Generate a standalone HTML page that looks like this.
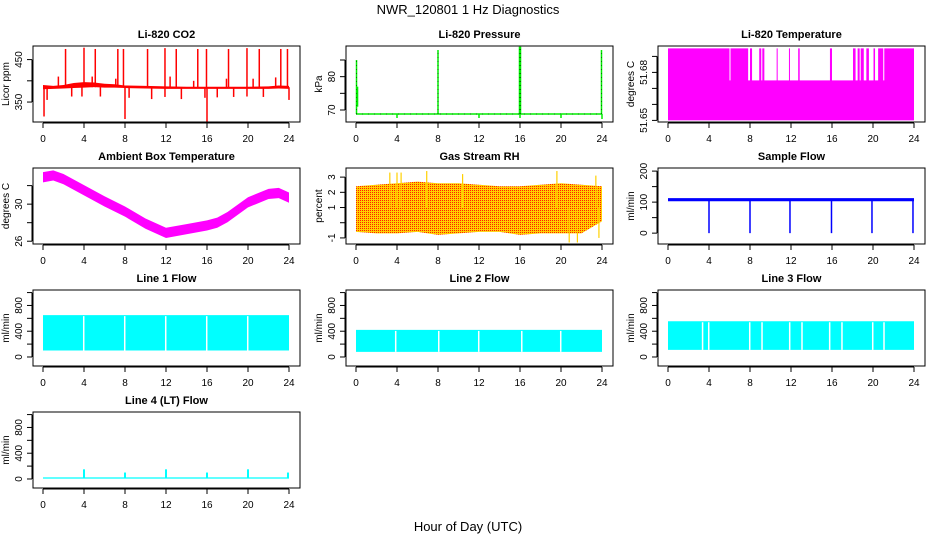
<!DOCTYPE html>
<html><head><meta charset="utf-8"><style>
body{margin:0;background:#fff;}
svg{display:block;font-family:"Liberation Sans",sans-serif;}
</style></head><body>
<svg id="c" width="936" height="540" xmlns="http://www.w3.org/2000/svg">
<defs>
<pattern id="rhpat" width="2" height="2" patternUnits="userSpaceOnUse"><rect width="2" height="2" fill="#ffd000"/><rect width="1" height="1" fill="#ff2000"/></pattern>
</defs>
<text x="468" y="14" text-anchor="middle" font-size="13">NWR_120801  1 Hz Diagnostics</text>
<text x="468" y="531" text-anchor="middle" font-size="13">Hour of Day (UTC)</text>
</svg>
<script>
// ---- data ----
var xTicks = [0,4,8,12,16,20,24];
// CO2
var co2Hours = [0,1,2,3,4,5,6,7,8,10,12,14,16,18,20,22,23,24];
var co2Lo = [380,381,382,383,384,385,384,384,383,382,381,381,381,381,381,381,382,381];
var co2Hi = [390,388,390,395,397,396,393,392,389,388,387,386,386,386,386,387,389,388];
var co2SpikeH = [2.2,4.0,5.1,7.3,7.85,10.2,11.9,13.0,15.1,15.95,18.1,19.9,21.1,23.2,23.85,1.5,4.8,7.1,12.4,14.7,17.9,20.5,22.7];
var co2SpikeV = [475,478,475,475,475,475,477,475,475,475,475,477,475,475,475,410,410,405,410,400,405,405,408];
var co2DipH = [0.1,8.0,16.0,0.4,2.8,3.8,5.6,8.4,10.6,11.9,13.5,15.8,17.0,18.6,19.9,21.5,24.0];
var co2DipV = [316,310,303,355,363,363,363,360,357,362,357,360,361,362,363,362,355];
// Pressure
var presSpikeH = [0.05,8.0,15.95,16.05,23.95];
var presSpikeV = [85,88,89,89,88];
var presDipH = [4,12,16,20,24];
var presDipV = [67.6,67.6,67.6,67.6,67.3];
var presBase = 68.8;
// Li-820 temperature
var tempLow = 51.65, tempMid = 51.675, tempTop = 51.695;
var tempGapStart = [6.0,7.82,8.2,9.1,9.4,10.7,11.9,12.85,16.0,18.3,18.7,19.1,19.6,20.2,21.0];
var tempGapEnd   = [6.08,8.0,8.9,9.2,10.6,11.8,12.7,15.8,18.05,18.5,18.8,19.35,20.05,20.5,21.1];
// Ambient box temperature
var ambHours = [0,1,2,4,6,8,10,12,14,16,17,18,20,22,23,24];
var ambMid = [32.9,33.1,32.7,31.5,30.3,29.2,27.9,26.9,27.3,27.7,28.0,28.6,30.2,31.1,31.2,30.7];
var ambHalf = 0.55;
// Gas stream RH
var rhHours = [0,2,4,6,8,10,12,14,16,18,20,22,24];
var rhLo = [-0.6,-0.7,-0.7,-0.6,-0.8,-0.7,-0.6,-0.6,-0.8,-0.7,-0.7,-0.7,0.1];
var rhHi = [2.4,2.5,2.6,2.7,2.6,2.6,2.5,2.4,2.4,2.5,2.6,2.5,2.4];
var rhSpikeH = [3.3,4.0,4.4,6.9,10.4,19.6,23.4,20.8,21.6,23.7];
var rhSpikeV = [3.3,3.3,3.3,3.4,3.2,3.4,3.1,-1.3,-1.3,-1.0];
// Sample flow
var sfHours = [0,24];
var sfLo = [103,103], sfHi = [113,113];
var sfDipH = [4.0,8.0,11.9,15.95,19.9,23.9];
var sfDipV = [0,0,0,0,0,0];
// Line flows
var l1Lo = [100,100], l1Hi = [650,650];
var l1Gap = [3.9,7.9,11.9,15.9,19.9];
var l2Lo = [80,80], l2Hi = [420,420];
var l2Gap = [3.8,8.0,11.9,16.1,19.9];
var l3Lo = [110,110], l3Hi = [555,555];
var l3Gap = [3.3,3.9,7.9,9.1,11.8,13.0,15.7,16.9,19.9,21.0];
var l4Base = [5,25];
var l4SpikeH = [4.0,8.0,12.0,16.0,20.0,23.9];
var l4SpikeV = [150,100,150,100,150,100];

// ---- layout ----
var svg = document.getElementById('c');
var NS = 'http://www.w3.org/2000/svg';
var colX = [33,346,658], rowY = [46,168,290,412], BW = 267, BH = 76;
function mk(tag, attrs, parent){
  var e = document.createElementNS(NS, tag);
  for (var k in attrs) e.setAttribute(k, attrs[k]);
  (parent||svg).appendChild(e);
  return e;
}
function panel(name, col, row, title, ylim, yticks, ylabels, ylab){
  var g = mk('g', {});
  
  
  var L = colX[col], T = rowY[row];
  var p = {g:g, L:L, T:T,
    x: function(h){ return L + 10 + h * (246/24); },
    y: function(v){ return T + BH - (v - ylim[0]) / (ylim[1]-ylim[0]) * BH; }};
  var t = mk('text', {x:L+BW/2, y:T-8, 'text-anchor':'middle', 'font-size':11, 'font-weight':'bold'}, g);
  t.textContent = title;
  
  
  var xa = mk('g', {}, g);
  
  
  mk('line', {x1:p.x(0), x2:p.x(24), y1:T+BH+1, y2:T+BH+1, stroke:'#000'}, xa);
  xTicks.forEach(function(v){
    mk('line', {x1:p.x(v), x2:p.x(v), y1:T+BH+1, y2:T+BH+6, stroke:'#000'}, xa);
    var tt = mk('text', {x:p.x(v), y:T+BH+20, 'text-anchor':'middle', 'font-size':10}, xa);
    tt.textContent = v;
  });
  var ya = mk('g', {}, g);
  
  
  mk('line', {x1:L-1, x2:L-1, y1:p.y(yticks[0]), y2:p.y(yticks[yticks.length-1]), stroke:'#000'}, ya);
  yticks.forEach(function(v, i){
    var yy = p.y(v);
    mk('line', {x1:L-6, x2:L-1, y1:yy, y2:yy, stroke:'#000'}, ya);
    if (ylabels[i] !== '') {
      var tt = mk('text', {x:L-11, y:yy, 'text-anchor':'middle', 'font-size':10, transform:'rotate(-90 '+(L-11)+' '+yy+')'}, ya);
      tt.textContent = ylabels[i];
    }
  });
  var yl = mk('text', {x:L-24, y:T+BH/2, 'text-anchor':'middle', 'font-size':10, transform:'rotate(-90 '+(L-24)+' '+(T+BH/2)+')'}, g);
  yl.textContent = ylab;
  
  
  p.plot = mk('g', {}, g);
  
  
  p.close = function(){
    mk('rect', {x:L, y:T, width:BW, height:BH, fill:'none', stroke:'#000'}, g);
  };
  return p;
}
function band(p, hours, lo, hi, fill){
  var pts = [];
  for (var i=0;i<hours.length;i++) pts.push(p.x(hours[i])+','+p.y(hi[i]));
  for (var i=hours.length-1;i>=0;i--) pts.push(p.x(hours[i])+','+p.y(lo[i]));
  var e = mk('polygon', {points:pts.join(' '), fill:fill}, p.plot);
  
  
  return e;
}
function vline(p, h, v0, v1, color, w){
  var e = mk('line', {x1:p.x(h), x2:p.x(h), y1:p.y(v0), y2:p.y(v1), stroke:color, 'stroke-width':w||1.5}, p.plot);
  
  
  return e;
}

var p = panel('co2', 0, 0, 'Li-820 CO2', [303,482], [350,400,450], ['350','','450'], 'Licor ppm');
band(p, co2Hours, co2Lo, co2Hi, '#ff0000');
co2SpikeH.forEach(function(h,i){ vline(p, h, 385, co2SpikeV[i], '#ff0000', 1.5); });
co2DipH.forEach(function(h,i){ vline(p, h, 385, co2DipV[i], '#ff0000', 1.5); });
p.close();

p = panel('pressure', 1, 0, 'Li-820 Pressure', [66.4,89.2], [70,75,80,85], ['70','','80',''], 'kPa');
mk('line', {x1:p.x(0), x2:p.x(24), y1:p.y(presBase), y2:p.y(presBase), stroke:'#00ee00', 'stroke-width':1.5}, p.plot);
mk('line', {x1:p.x(0), x2:p.x(24), y1:p.y(presBase), y2:p.y(presBase), stroke:'#000', 'stroke-width':0.6, 'stroke-dasharray':'1 5'}, p.plot);
presSpikeH.forEach(function(h,i){ vline(p, h, presBase, presSpikeV[i], '#00ee00', 1.5); vline(p, h, presBase, presSpikeV[i], '#000', 0.5).setAttribute('stroke-dasharray','1 3'); });
presDipH.forEach(function(h,i){ vline(p, h, presBase, presDipV[i], '#00ee00', 1.5); });
vline(p, 0.15, 71, 77, '#00ee00', 1.5);
p.close();

p = panel('li820-temp', 2, 0, 'Li-820 Temperature', [51.649,51.6965], [51.65,51.66,51.67,51.68,51.69], ['51.65','','','51.68',''], 'degrees C');
band(p, [0,24], [tempLow,tempLow], [tempTop,tempTop], '#ff00ff');
tempGapStart.forEach(function(s,i){
  var r = mk('rect', {x:p.x(s), y:p.y(tempTop)-0.5, width:Math.max(1,p.x(tempGapEnd[i])-p.x(s)), height:p.y(tempMid)-p.y(tempTop)+0.5, fill:'#fff'}, p.plot);
  
  
});
p.close();

p = panel('ambient-temp', 0, 1, 'Ambient Box Temperature', [25.7,33.9], [26,28,30,32], ['26','','30',''], 'degrees C');
band(p, ambHours, ambMid.map(function(v){return v-ambHalf;}), ambMid.map(function(v){return v+ambHalf;}), '#ff00ff');
p.close();

p = panel('gas-rh', 1, 1, 'Gas Stream RH', [-1.4,3.6], [-1,0,1,2,3], ['-1','','1','2','3'], 'percent');
band(p, rhHours, rhLo, rhHi, 'url(#rhpat)');
rhSpikeH.forEach(function(h,i){ vline(p, h, 1, rhSpikeV[i], '#ffd000', 1.2); });
p.close();

p = panel('sample-flow', 2, 1, 'Sample Flow', [-35,210], [0,50,100,150,200], ['0','','100','','200'], 'ml/min');
band(p, sfHours, sfLo, sfHi, '#0000ff');
sfDipH.forEach(function(h,i){ vline(p, h, 105, sfDipV[i], '#0000ff', 1.5); });
p.close();

var flowLim = [-140,1040], flowTicks = [0,200,400,600,800,1000], flowLabs = ['0','','400','','800',''];
function linePanel(name, col, row, title, lo, hi, gaps){
  var q = panel(name, col, row, title, flowLim, flowTicks, flowLabs, 'ml/min');
  band(q, [0,24], lo, hi, '#00ffff');
  gaps.forEach(function(h){
    var r = mk('rect', {x:q.x(h), y:q.y(hi[0])+1, width:1.5, height:q.y(lo[0])-q.y(hi[0])-1, fill:'#fff'}, q.plot);
    
    
  });
  q.close();
  return q;
}
linePanel('line1-flow', 0, 2, 'Line 1 Flow', l1Lo, l1Hi, l1Gap);
linePanel('line2-flow', 1, 2, 'Line 2 Flow', l2Lo, l2Hi, l2Gap);
linePanel('line3-flow', 2, 2, 'Line 3 Flow', l3Lo, l3Hi, l3Gap);

p = panel('line4-flow', 0, 3, 'Line 4 (LT) Flow', flowLim, flowTicks, flowLabs, 'ml/min');
band(p, [0,24], [l4Base[0],l4Base[0]], [l4Base[1],l4Base[1]], '#00ffff');
l4SpikeH.forEach(function(h,i){ vline(p, h, 15, l4SpikeV[i], '#00ffff', 2); });
p.close();
</script>
</body></html>
